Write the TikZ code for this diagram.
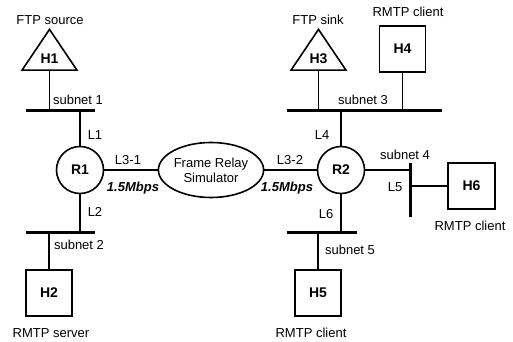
\documentclass[tikz,border=0pt]{standalone}
\usepackage{fontspec}
\setmainfont{Liberation Sans}
\usetikzlibrary{shapes.geometric}

\tikzset{
  host/.style={draw,line width=1.6pt,minimum width=46,minimum height=46,inner sep=0,font=\fontsize{14}{16}\selectfont\bfseries},
  ftphost/.style={draw,line width=1.6pt,isosceles triangle,shape border rotate=90,isosceles triangle apex angle=68,minimum width=55,inner sep=0,anchor=south,font=\fontsize{14}{16}\selectfont\bfseries},
  router/.style={draw,circle,line width=1.6pt,minimum size=47,inner sep=0,font=\fontsize{14}{16}\selectfont\bfseries},
  subnet/.style={fill=black,inner sep=0,minimum height=3},
  subnetv/.style={fill=black,inner sep=0,minimum width=3},
  link/.style={line width=1.6pt},
  rate/.style={font=\fontsize{13}{15}\selectfont\bfseries\itshape}
}

\begin{document}
\fontsize{13}{15}\selectfont
\begin{tikzpicture}[x=1pt,y=-1pt]
\useasboundingbox (0,0) rectangle (513,342);
% hosts, routers and the simulator
\node[ftphost] (h1) at (49.5,71) {H1};
\node[ftphost] (h3) at (318.5,71) {H3};
\node[host] (h4) at (402.5,49) {H4};
\node[host,minimum width=47] (h6) at (471.5,186) {H6};
\node[host] (h5) at (318,293) {H5};
\node[host] (h2) at (49,293) {H2};
\node[router] (r1) at (80,170) {R1};
\node[router] (r2) at (341,170) {R2};
\node[draw,ellipse,line width=1.6pt,minimum width=102,minimum height=55,inner sep=0,align=center] (frs) at (211,170) {Frame Relay\\Simulator};

% subnets
\node[subnet,minimum width=69] (s1) at (60.5,110) {};
\node[subnet,minimum width=69] (s2) at (60.5,232) {};
\node[subnet,minimum width=155] (s3) at (364.5,110) {};
\node[subnetv,minimum height=54] (s4) at (410,190) {};
\node[subnet,minimum width=70] (s5) at (322,232) {};

% links
\draw[link] (h1.south) -- (h1.south |- s1.center);
\draw[link] (r1.north) -- (r1.north |- s1.center);
\draw[link] (r1.south) -- (r1.south |- s2.center);
\draw[link] (h2.north) -- (h2.north |- s2.center);
\draw[link] (r1) -- (frs);
\draw[link] (frs) -- (r2);
\draw[link] (r2.north) -- (r2.north |- s3.center);
\draw[link] (h3.south) -- (h3.south |- s3.center);
\draw[link] (h4.south) -- (h4.south |- s3.center);
\draw[link] (r2.east) -- (r2.east -| s4.center);
\draw[link] (h6.west) -- (h6.west -| s4.center);
\draw[link] (r2.south) -- (r2.south |- s5.center);
\draw[link] (h5.north) -- (h5.north |- s5.center);

% labels
\node (ftpsrc) at (50,20) {FTP source};
\node (ftpsnk) at (318,20) {FTP sink};
\node (h4role) at (408,12) {RMTP client};
\node (h6role) at (470,226) {RMTP client};
\node (h5role) at (311,333) {RMTP client};
\node (h2role) at (51,333) {RMTP server};
\node (s1lbl) at (78,100) {subnet 1};
\node (s2lbl) at (79,245) {subnet 2};
\node (s3lbl) at (363,100) {subnet 3};
\node (s4lbl) at (405,155) {subnet 4};
\node (s5lbl) at (350,250) {subnet 5};
\node (l1) at (95,135) {L1};
\node (l2) at (95,212) {L2};
\node (l31) at (128,160) {L3-1};
\node (l32) at (290,160) {L3-2};
\node (l4) at (322,135) {L4};
\node (l5) at (395,187) {L5};
\node (l6) at (326,214) {L6};
\node[rate] (bw1) at (133,188) {1.5Mbps};
\node[rate] (bw2) at (287,188) {1.5Mbps};
\end{tikzpicture}
\end{document}
